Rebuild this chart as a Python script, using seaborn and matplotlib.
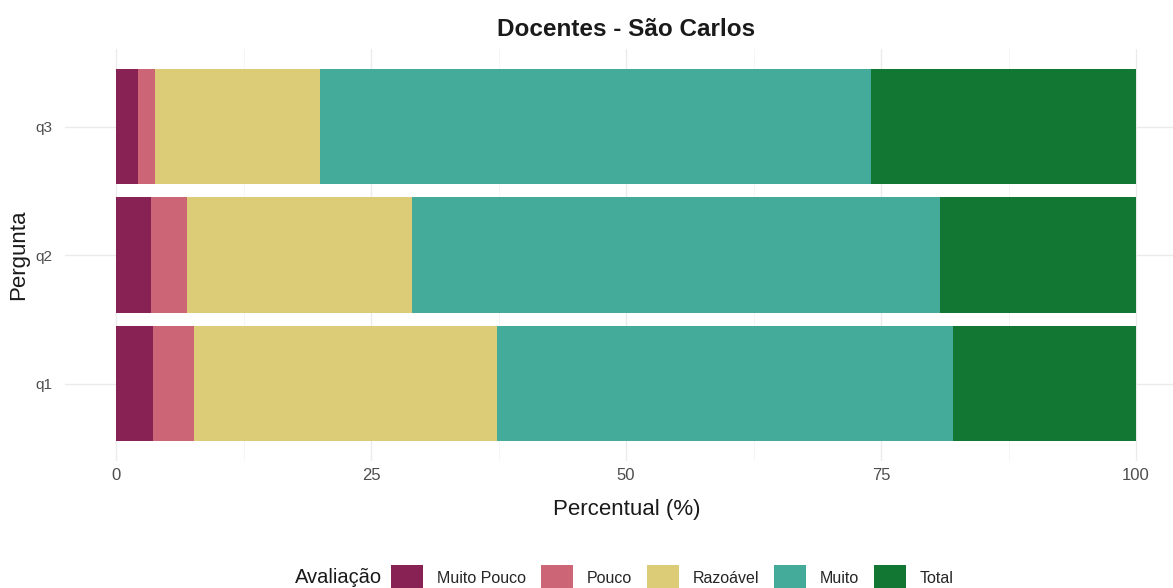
import matplotlib
matplotlib.use("Agg")
import matplotlib.pyplot as plt
import seaborn as sns
import pandas as pd
import numpy as np
from matplotlib.patches import Patch
from matplotlib.offsetbox import HPacker

perguntas = ["q3", "q2", "q1"]
categorias = ["Muito Pouco", "Pouco", "Razoável", "Muito", "Total"]
muito_pouco = [2.2, 3.4, 3.6]
pouco = [1.6, 3.6, 4.0]
razoavel = [16.2, 22.0, 29.8]
muito = [54.0, 51.8, 44.7]
total = [26.0, 19.2, 17.9]
cores = ["#882255", "#CC6677", "#DDCC77", "#44AA99", "#117733"]

series = [muito_pouco, pouco, razoavel, muito, total]
df = pd.DataFrame({"Pergunta": perguntas})
cum = np.zeros(len(perguntas))
for nome, vals in zip(categorias, series):
    cum = cum + np.array(vals)
    df[nome] = cum.copy()

sns.set_theme(style="whitegrid")
plt.rcParams["font.family"] = ["Liberation Sans", "DejaVu Sans"]
fig = plt.figure(figsize=(11.73, 5.88), dpi=100)
ax = fig.add_axes([65/1173, 127.4/588, 1122/1173, 411.2/588])

for nome, cor in reversed(list(zip(categorias, cores))):
    sns.barplot(data=df, y="Pergunta", x=nome, order=perguntas, color=cor,
                orient="h", width=0.9, saturation=1, ax=ax, linewidth=0, zorder=3)

ax.set_xlim(-5, 105)
ax.set_ylim(2.6, -0.6)
ax.set_xticks([0, 25, 50, 75, 100])
ax.set_xticks([12.5, 37.5, 62.5, 87.5], minor=True)
ax.grid(True, which="major", color="#EBEBEB", linewidth=1.0, zorder=0)
ax.grid(True, which="minor", axis="x", color="#F4F4F4", linewidth=0.6, zorder=0)
ax.set_axisbelow(True)
for s in ax.spines.values():
    s.set_visible(False)
ax.tick_params(axis="both", length=0, colors="#4D4D4D")
ax.tick_params(axis="y", labelsize=11, pad=9)
ax.tick_params(axis="x", labelsize=12, pad=5)
ax.set_xlabel("Percentual (%)", fontsize=16, color="#1A1A1A")
ax.set_ylabel("Pergunta", fontsize=16, color="#1A1A1A")
ax.xaxis.set_label_coords(0.501, -0.094)
ax.yaxis.set_label_coords(-0.032, 0.5)
ax.set_title("Docentes - São Carlos", fontsize=17.5, fontweight="bold", color="#1A1A1A", pad=10)

handles = [Patch(facecolor=c, edgecolor="none", label=n) for n, c in zip(categorias, cores)]
leg = fig.legend(handles=handles, loc="lower center", ncol=5, bbox_to_anchor=(0.532, -0.03),
                 frameon=False, fontsize=11.5, title="Avaliação", title_fontsize=14.5,
                 handlelength=2.0, handleheight=2.2, columnspacing=0.95, handletextpad=0.85)
leg.get_title().set_color("#1A1A1A")
title_box = leg._legend_title_box
handle_box = leg._legend_handle_box
leg._legend_box._children = [HPacker(pad=0, sep=7, align="center", children=[title_box, handle_box])]

fig.savefig("out.png", dpi=100)
